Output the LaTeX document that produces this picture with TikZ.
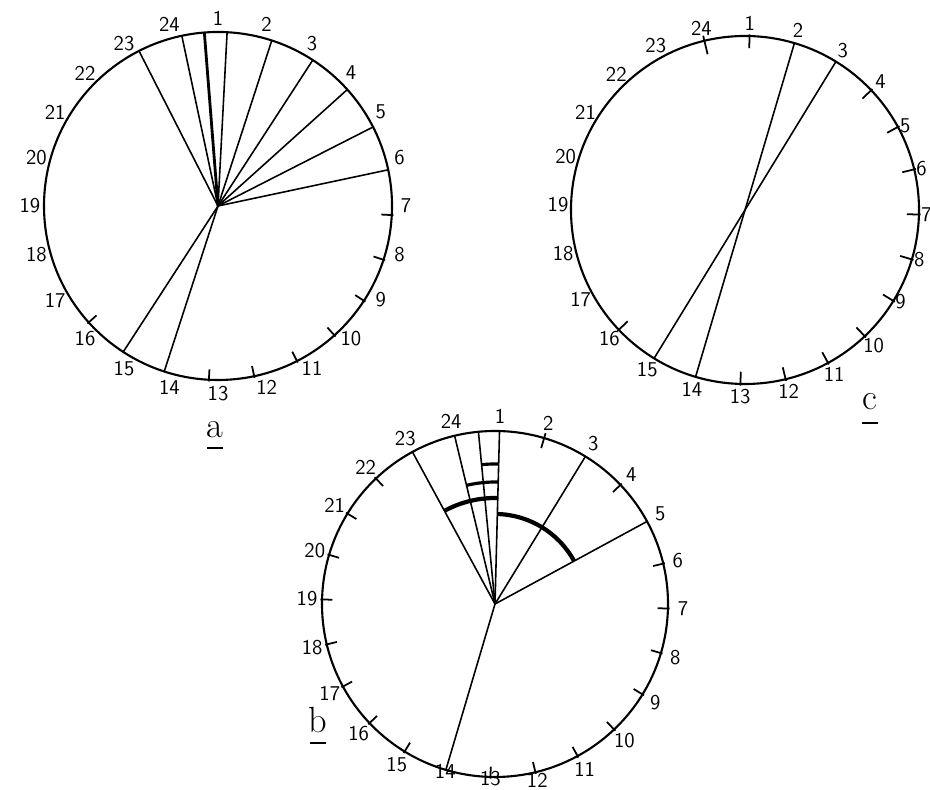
\documentclass[tikz,border=0pt]{standalone}
\usetikzlibrary{calc}
\begin{document}
\begin{tikzpicture}[
    x=0.02cm, y=0.02cm,
    dial/.style={line width=1.2pt},
    spoke/.style={line width=0.9pt},
    hourtick/.style={line width=1pt},
    hourlabel/.style={font=\sffamily\large, inner sep=1pt},
    band/.style={line width=2.4pt},
    bar/.style={line width=1.8pt},
    letter/.style={font=\huge, inner sep=0pt},
    underscore/.style={line width=1.6pt}
    ]
    \useasboundingbox (0,0) rectangle (930,790);

    % dial a
    \coordinate (ca) at (218,584);
    \draw[dial] (ca) circle[radius=174];
    \foreach \k in {1,...,24} {
        \coordinate (a\k) at ($(ca)+({87-15*(\k-1)}:174)$);
        \node[hourlabel] (la\k) at ($(ca)+({90-15*(\k-1)}:188)$) {\k};
    }
    \coordinate (amid) at ($(ca)+(94.5:174)$);
    \foreach \k in {23,24,1,2,3,4,5,6,14,15}
        \draw[spoke] (ca) -- (a\k);
    \draw[spoke, line width=1.6pt] (ca) -- (amid);
    \foreach \k in {7,...,13,16,...,22}
        \draw[hourtick] ($(a\k)!0.06!(ca)$) -- ($(a\k)!-0.01!(ca)$);
    \node[letter] (taga) at (215,360) {a};
    \draw[underscore] ($(taga.center)+(-8,-18)$) -- ++(16,0);

    % dial c
    \coordinate (cc) at (745,580);
    \draw[dial] (cc) circle[radius=174];
    \foreach \k in {1,...,24}
        \coordinate (c\k) at ($(cc)+({88.5-15*(\k-1)}:174)$);
    \foreach \k in {1,...,4,10,11,...,24}
        \node[hourlabel] (lc\k) at ($(cc)+({88.5-15*(\k-1)}:187)$) {\k};
    \foreach \k in {5,...,9}
        \node[hourlabel, anchor=west, inner sep=0pt] (lc\k) at ($(cc)+({88.5-15*(\k-1)}:176)$) {\k};
    \draw[spoke] (c2) -- (c14);
    \draw[spoke] (c3) -- (c15);
    \foreach \k in {1,4,5,...,13,16,...,23}
        \draw[hourtick] ($(c\k)!0.07!(cc)$) -- ($(c\k)!-0.01!(cc)$);
    \draw[hourtick] ($(c24)!0.08!(cc)$) -- ($(c24)!-0.03!(cc)$);
    \node[letter] (tagc) at (870,388) {c};
    \draw[underscore] ($(tagc.center)+(-8,-21)$) -- ++(16,0);

    % dial b
    \coordinate (cb) at (495,186);
    \draw[dial] (cb) circle[radius=173];
    \foreach \k in {1,...,24}
        \coordinate (b\k) at ($(cb)+({88.5-15*(\k-1)}:173)$);
    \foreach \k in {1,...,11,15,16,...,24}
        \node[hourlabel] (lb\k) at ($(cb)+({88.5-15*(\k-1)}:188)$) {\k};
    \node[hourlabel] (lb12) at ($(cb)+({88.5-15*11}:181)$) {12};
    \foreach \k in {13,14}
        \node[hourlabel] (lb\k) at ($(cb)+({88.5-15*(\k-1)}:175)$) {\k};
    \coordinate (bmid) at ($(cb)+(95.5:173)$);
    \foreach \k in {23,24,1,3,5,14}
        \draw[spoke] (cb) -- (b\k);
    \draw[spoke] (cb) -- (bmid);
    \foreach \k in {4,6,7,...,13,15,16,...,22}
        \draw[hourtick] ($(b\k)!0.06!(cb)$) -- ($(b\k)!-0.01!(cb)$);
    \draw[hourtick] ($(b2)!0.06!(cb)$) -- ($(b2)!-0.03!(cb)$);
    % marked sectors
    \draw[band] ($(cb)+(88.5:106)$) arc[start angle=88.5, end angle=118.5, radius=106];
    \draw[band] ($(cb)+(28.5:90)$) arc[start angle=28.5, end angle=88.5, radius=90];
    \draw[bar] ($(cb)+(88.5:122)$) arc[start angle=88.5, end angle=103.5, radius=122];
    \draw[bar] ($(cb)+(88.5:140)$) arc[start angle=88.5, end angle=95.5, radius=140];
    \node[letter] (tagb) at (318,70) {b};
    \draw[underscore] ($(tagb.center)+(-8,-23)$) -- ++(16,0);
\end{tikzpicture}
\end{document}
